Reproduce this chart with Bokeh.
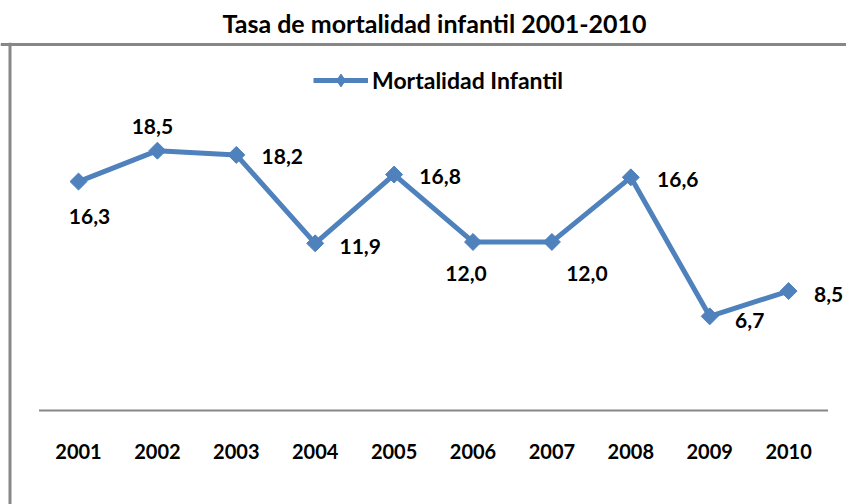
from bokeh.plotting import figure
from bokeh.models import Range1d, Span, Legend, LegendItem, ColumnDataSource
from bokeh.core.properties import value
from bokeh.embed import file_html
from bokeh.resources import INLINE
import math

# ---- data ----
years = [2001, 2002, 2003, 2004, 2005, 2006, 2007, 2008, 2009, 2010]
mortalidad = [16.3, 18.5, 18.2, 11.9, 16.8, 12.0, 12.0, 16.6, 6.7, 8.5]
series_name = "Mortalidad Infantil"
title_text = "Tasa de mortalidad infantil 2001-2010"

# label placement (screen px offsets from each point)
label_dx = [11, -5, 46, 45, 46, -7, 35, 47, 40, 40]
label_dy = [35, -24, 2, 3, 2, 32, 32, 2, 4, 3]

FONT = "Lato"
BLUE = "#4F81BD"
GRAY = "#878787"

W, H = 846, 504
TOP = 40
px_x = 78.9
px_y = 14.1
ZERO = 409.5
x0 = years[0] - 78 / px_x
x1 = x0 + W / px_x
y1 = (ZERO - TOP) / px_y
y0 = y1 - (H - TOP) / px_y

p = figure(width=W, height=H, output_backend="svg", toolbar_location=None,
           x_range=Range1d(x0, x1), y_range=Range1d(y0, y1),
           min_border_left=0, min_border_right=0, min_border_bottom=0,
           min_border_top=TOP, title=title_text)
p.axis.visible = False
p.grid.visible = False
p.outline_line_color = None
p.background_fill_color = "white"
p.border_fill_color = "white"

p.title.text_font = FONT
p.title.text_font_style = "bold"
p.title.text_font_size = "25px"
p.title.align = "left"
p.title.offset = 222
p.title.text_color = "black"

# chart-area border (left and top)
p.add_layout(Span(location=x0 + 9.5 / px_x, dimension="height", line_color=GRAY, line_width=3))
p.add_layout(Span(location=y1 - 2 / px_y, dimension="width", line_color=GRAY, line_width=3))

# category axis line at 0
p.segment(x0=[years[0] - 0.5], x1=[years[-1] + 0.5], y0=[0], y1=[0],
          line_color=GRAY, line_width=2)

src = ColumnDataSource(dict(
    x=years, y=mortalidad,
    lab=[f"{v:.1f}".replace(".", ",") for v in mortalidad],
    dx=label_dx, dy=label_dy,
    yl=[str(y) for y in years], zero=[0] * len(years),
))

ln = p.line("x", "y", source=src, line_color=BLUE, line_width=5)
p.scatter("x", "y", source=src, marker="square", angle=math.pi / 4, size=12,
          fill_color=BLUE, line_color=BLUE)
# legend-only marker glyph (not drawn in the plot: NaN position)
nan = float("nan")
mk_leg = p.scatter(x=[nan], y=[nan], marker="diamond", size=12,
                   fill_color=BLUE, line_color=BLUE)

p.text("x", "y", text="lab", source=src, x_offset="dx", y_offset="dy",
       text_font=value(FONT), text_font_style="bold", text_font_size="21px",
       text_align="center", text_baseline="middle", text_color="black")

p.text("x", "zero", text="yl", source=src, y_offset=41,
       text_font=value(FONT), text_font_style="bold", text_font_size="20px",
       text_align="center", text_baseline="middle", text_color="black")

legend = Legend(items=[LegendItem(label=series_name, renderers=[ln, mk_leg])],
                location=(313, 408), orientation="horizontal",
                glyph_width=55, glyph_height=32, label_height=32,
                label_standoff=4, padding=0, margin=0, spacing=0,
                border_line_color=None, background_fill_alpha=0,
                label_text_font=FONT, label_text_font_style="bold",
                label_text_font_size="23px", label_text_color="black")
p.add_layout(legend)

open("out.html", "w").write(file_html(p, INLINE))
